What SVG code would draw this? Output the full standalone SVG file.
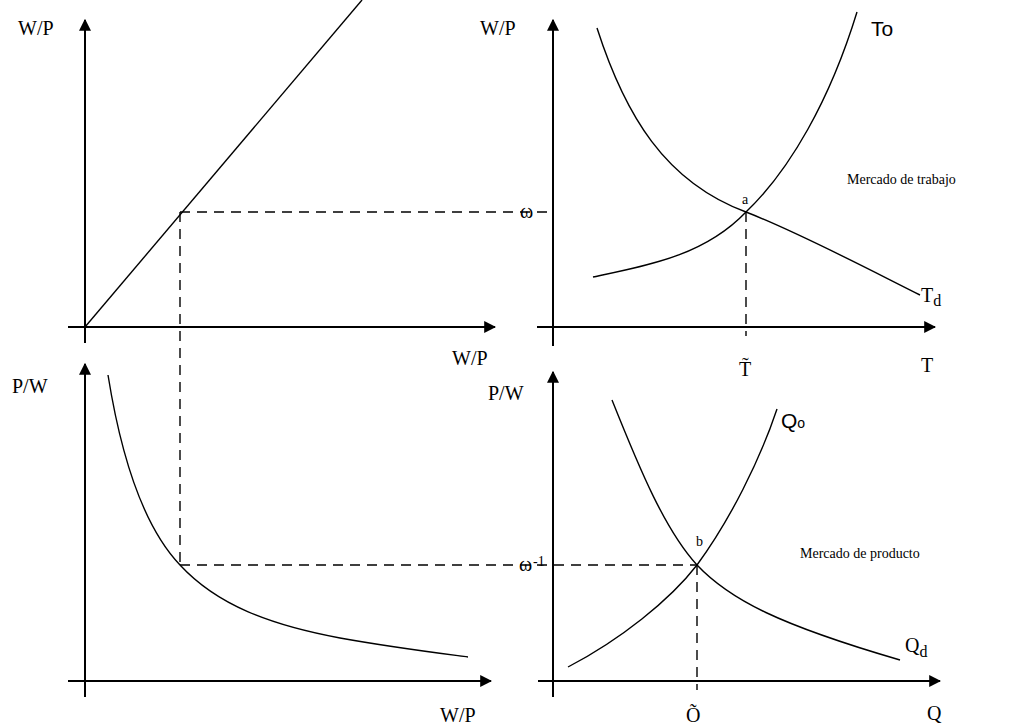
<svg xmlns="http://www.w3.org/2000/svg" width="1025" height="727" viewBox="0 0 1025 727">
<style>
.ax{stroke:#000;stroke-width:2;fill:none}
.cv{stroke:#000;stroke-width:1.4;fill:none}
.ds{stroke:#000;stroke-width:1.4;fill:none;stroke-dasharray:10 7}
.lb{font-family:"Liberation Serif",serif;font-size:20px;fill:#000}
.sm{font-family:"Liberation Serif",serif;font-size:14px;fill:#000}
.ss{font-family:"Liberation Sans",sans-serif;font-size:21px;fill:#000}
</style>
<defs>
<marker id="ar" viewBox="0 0 10 10" refX="9" refY="5" markerWidth="6" markerHeight="6" orient="auto" markerUnits="strokeWidth">
<path d="M0,0 L10,5 L0,10 z" fill="#000"/>
</marker>
</defs>
<rect width="1025" height="727" fill="#fff"/>
<g id="connectors">
<line class="ax" x1="85" y1="343" x2="85" y2="20" marker-end="url(#ar)"/>
<line class="ax" x1="68" y1="327" x2="495" y2="327" marker-end="url(#ar)"/>
<line class="ax" x1="553" y1="346" x2="553" y2="20" marker-end="url(#ar)"/>
<line class="ax" x1="537" y1="327" x2="935" y2="327" marker-end="url(#ar)"/>
<line class="ax" x1="85" y1="697" x2="85" y2="364" marker-end="url(#ar)"/>
<line class="ax" x1="68" y1="681" x2="491" y2="681" marker-end="url(#ar)"/>
<line class="ax" x1="553" y1="697" x2="553" y2="372" marker-end="url(#ar)"/>
<line class="ax" x1="538" y1="681" x2="940" y2="681" marker-end="url(#ar)"/>
<line class="cv" x1="85" y1="327" x2="362" y2="0"/>
<path class="cv" d="M593,277 C650,265 705,255 746,212 C790,170 830,100 857,12"/>
<path class="cv" d="M597,28 C625,115 665,182 746,212 C800,233 870,270 920,295"/>
<path class="cv" d="M108,375 C120,450 142,525 180,565 C217,605 270,625 340,638 C390,647 430,652 468,657"/>
<path class="cv" d="M568,667 C620,640 670,600 697,565 C730,520 760,460 777,409"/>
<path class="cv" d="M612,400 C640,470 665,530 697,565 C730,600 780,625 900,660"/>
<line class="ds" x1="180" y1="212" x2="180" y2="565"/>
<line class="ds" x1="180" y1="212" x2="553" y2="212"/>
<line class="ds" x1="746" y1="212" x2="746" y2="336"/>
<line class="ds" x1="180" y1="565" x2="697" y2="565"/>
<line class="ds" x1="697" y1="565" x2="697" y2="690"/>
</g>
<g id="labels">
<text class="lb" x="18" y="35">W/P</text>
<text class="lb" x="452" y="365">W/P</text>
<text class="lb" x="480" y="35">W/P</text>
<text class="lb" x="12" y="393">P/W</text>
<text class="lb" x="440" y="722">W/P</text>
<text class="lb" x="488" y="400">P/W</text>
<text class="lb" x="520" y="218">ω</text>
<text class="lb" x="519" y="571">ω</text>
<text class="sm" x="533" y="566">-1</text>
<text class="sm" x="742" y="204">a</text>
<text class="sm" x="696" y="546">b</text>
<text class="ss" x="871" y="36">To</text>
<text class="lb" x="921" y="302">T<tspan font-size="16" dy="4">d</tspan></text>
<text class="lb" x="921" y="372">T</text>
<text class="lb" x="739" y="376">T̃</text>
<text class="ss" x="781" y="428">Q<tspan font-size="14">o</tspan></text>
<text class="lb" x="905" y="652">Q<tspan font-size="16" dy="5">d</tspan></text>
<text class="lb" x="927" y="720">Q</text>
<text class="lb" x="686" y="722">Õ</text>
<text class="sm" x="847" y="184">Mercado de trabajo</text>
<text class="sm" x="800" y="558">Mercado de producto</text>
</g>
</svg>
